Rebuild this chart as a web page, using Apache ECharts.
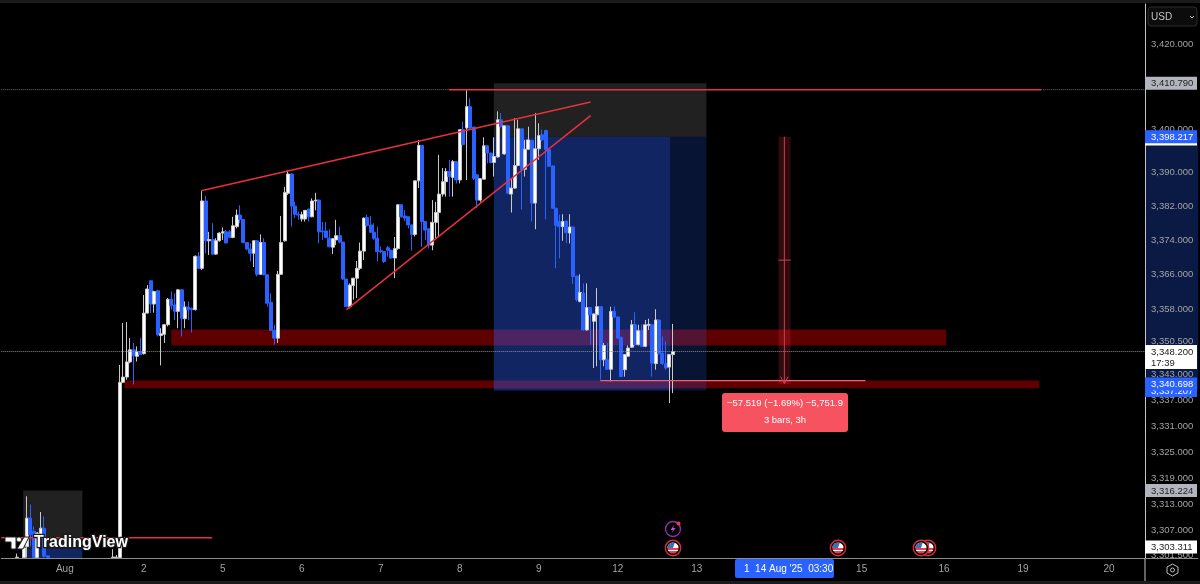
<!DOCTYPE html>
<html>
<head>
<meta charset="utf-8">
<title>XAUUSD 1h</title>
<script src="https://cdn.jsdelivr.net/npm/echarts@6/dist/echarts.min.js"></script>
<style>
  html, body { margin: 0; padding: 0; background: #000; }
  #chart { width: 1200px; height: 584px; }
</style>
</head>
<body>
<div id="chart"></div>
<script>
const barCount = 333;

// day labels on the time axis, by bar slot
const dayLabels = ['Aug', '2', '5', '6', '7', '8', '9', '12', '13', '15', '16', '19', '20'];
const daySlots = [18, 41, 64, 87, 110, 133, 156, 179, 202, 250, 274, 297, 322];

const priceTicks = [3420, 3400, 3390, 3382, 3374, 3366, 3358, 3350.5, 3343, 3337, 3331, 3325, 3319, 3313, 3307, 3301.5];

// open, close, low, high
const barsLeft = [
  [3300.9, 3301, 3300.9, 3301.8], '-',
  [3300.9, 3303.1, 3300.9, 3303.3], [3303.4, 3309.9, 3300.9, 3314.9], [3309.9, 3306.1, 3303.4, 3313],
  [3306.9, 3300.9, 3300.9, 3308], [3300.9, 3306.5, 3300.9, 3306.7], [3306.1, 3307.6, 3303.4, 3311.3],
  [3307.6, 3301.2, 3300.9, 3310.3], [3301.3, 3300.9, 3300.9, 3301.4],
];
const barsLeftStart = 4;

const barsMain = [
  [3300.9, 3301, 3300.9, 3302.8], [3300.9, 3301, 3300.9, 3301.5],
  [3300.9, 3341.1, 3300.9, 3345.1], [3341.1, 3342.3, 3340.9, 3354.8], [3342.3, 3345.8, 3341.7, 3355],
  [3345.8, 3348.6, 3345.5, 3351.3], [3348.6, 3347.2, 3340.6, 3350.2], [3347.1, 3348.2, 3345.9, 3349.4],
  [3348.2, 3347.5, 3347.4, 3351.3], [3347.7, 3357.1, 3347.5, 3361.3], [3357.1, 3362.7, 3357, 3363.6],
  [3364.6, 3359.2, 3357.1, 3364.8], [3359.2, 3362.1, 3357.2, 3362.3], [3362.3, 3352.1, 3351.7, 3362.5],
  [3351.9, 3352.3, 3345, 3353.6], [3352.2, 3354.4, 3350.2, 3354.6], [3354.4, 3360.3, 3354, 3360.6],
  [3360.3, 3358.8, 3357.9, 3362.1], [3359, 3357.5, 3355.5, 3361.7], [3357.5, 3362.5, 3353.6, 3362.7],
  [3362.5, 3355.9, 3351.7, 3362.7], [3355.8, 3358.5, 3353.6, 3359.8], [3358.5, 3357.9, 3355.5, 3359.8],
  [3358.2, 3357.9, 3352.6, 3358.4], [3357.9, 3370.3, 3357.7, 3370.5], [3370.3, 3367.5, 3367.3, 3371.3],
  [3367.5, 3383.2, 3367.1, 3385.6], [3383.2, 3373.9, 3371, 3384.4], [3373.9, 3374.2, 3370.6, 3376],
  [3374.2, 3370.8, 3370.6, 3378], [3370.8, 3373.9, 3370.6, 3374.5], [3373.9, 3375.7, 3373.7, 3375.9],
  [3375.7, 3376, 3374.1, 3377], [3376, 3373.4, 3373.3, 3376.4], [3376, 3374.7, 3374.5, 3376.4],
  [3374.7, 3377.4, 3374.5, 3379.5], [3377.2, 3379.9, 3376.8, 3381.2], [3379.9, 3378.9, 3378, 3382.2],
  [3378.9, 3373.5, 3373.3, 3379], [3373.5, 3372, 3371.7, 3373.6], [3372, 3371, 3369.1, 3373.3],
  [3371, 3373.9, 3367.8, 3374], [3373.9, 3366.1, 3365.6, 3374], [3366.1, 3373.5, 3366, 3375.4],
  [3373.5, 3366, 3365.9, 3374.5], [3366, 3359.4, 3358.6, 3366.1], [3359.6, 3353.1, 3352.9, 3361.7],
  [3353.1, 3351.3, 3349.8, 3354.4], [3351.3, 3366.1, 3350.2, 3366.9], [3366.1, 3373.5, 3366, 3379.7],
  [3373.9, 3385.2, 3373.7, 3386.5], [3385, 3389.5, 3384.6, 3390.3], [3389.5, 3382, 3377.2, 3389.7],
  [3382, 3380.1, 3379.2, 3383], [3380.1, 3379.9, 3378.8, 3380.7], [3379, 3380, 3378.4, 3380.7],
  [3379, 3381, 3378.4, 3381.1], [3381.3, 3379.5, 3378.4, 3381.4], [3379.5, 3383.2, 3379.4, 3383.8],
  [3383.2, 3383.4, 3381, 3385.1], [3383.4, 3376, 3373.3, 3383.5], [3376.2, 3376, 3374.1, 3378.3],
  [3376.2, 3374.7, 3374.5, 3378.3], [3374.5, 3372.5, 3372.4, 3376.6], [3372.4, 3374.4, 3370.8, 3374.5],
  [3374.1, 3375.1, 3372.9, 3378.8], [3375.1, 3373.6, 3373.3, 3377.2], [3373.6, 3365, 3364.8, 3373.7],
  [3365, 3358.6, 3358.5, 3365.1], [3358.6, 3363.6, 3358.2, 3364], [3363.5, 3365.2, 3360.2, 3365.3],
  [3365.2, 3367.5, 3360.6, 3369.2], [3367.5, 3371.5, 3367.1, 3373.5], [3371.5, 3379.2, 3369.4, 3379.3],
  [3379.3, 3377.5, 3377.2, 3380], [3377.6, 3375.9, 3375.7, 3379.7], [3375.9, 3374.5, 3374.1, 3378],
  [3374.5, 3371.4, 3369.1, 3377.2], [3371.6, 3371.4, 3371, 3372.6], [3371.4, 3369.1, 3368.7, 3371.5],
  [3372.3, 3371.7, 3370.2, 3372.7], [3371.7, 3369.9, 3369.7, 3371.9], [3369.9, 3372.1, 3365.2, 3374.8],
  [3372.1, 3382.3, 3371.8, 3382.4], [3382.3, 3379.5, 3379.3, 3382.4], [3379.7, 3379.2, 3378.5, 3381.1],
  [3379.5, 3377.6, 3376.8, 3379.6], [3377.6, 3375.4, 3371.6, 3377.7], [3375.4, 3387.9, 3374.9, 3388],
  [3387.9, 3396.2, 3386.2, 3397.5], [3396.2, 3378.4, 3372.5, 3396.3], [3378.4, 3376.4, 3374.1, 3378.5],
  [3376.7, 3372.9, 3372.1, 3376.8], [3372.9, 3378.2, 3371.7, 3383.4], [3378.2, 3380.5, 3374.5, 3383],
  [3380.5, 3384.8, 3374.9, 3394], [3384.8, 3387.7, 3384.2, 3390.9], [3387.7, 3390.1, 3384.2, 3390.9],
  [3390.1, 3388.9, 3384.2, 3392.8], [3388.7, 3392.4, 3384.2, 3392.8], [3392.4, 3388.1, 3387.3, 3392.5],
  [3388.1, 3399.9, 3387.3, 3400], [3399.9, 3396.4, 3396.2, 3401.8], [3400.3, 3405.3, 3388.1, 3409.3],
  [3405.3, 3400.3, 3400.1, 3407.3], [3400.5, 3388.5, 3388.1, 3400.6], [3389.3, 3383.4, 3381.5, 3389.5],
  [3383.4, 3388.4, 3383, 3388.5], [3388.3, 3396.1, 3388.2, 3398.1], [3396.1, 3394.4, 3392, 3396.2],
  [3394.4, 3392.2, 3392, 3394.5], [3392.2, 3393.6, 3388.9, 3398.1], [3393.5, 3402.2, 3393.3, 3404.2],
  [3402.2, 3400.6, 3400.4, 3403.8], [3394.2, 3400.8, 3394, 3400.9], [3400.8, 3385, 3384.8, 3401],
  [3384.8, 3386.2, 3380.5, 3388.5], [3386.2, 3391.5, 3386, 3402.6], [3391.5, 3400.1, 3391.3, 3402.2],
  [3400.1, 3390.5, 3381.2, 3400.2], [3390.6, 3395.3, 3388.9, 3397.5], [3395.3, 3397.5, 3395.1, 3400.6],
  [3397.4, 3382.7, 3378.4, 3397.5], [3382.7, 3395.4, 3376.6, 3403.8], [3395.4, 3398.5, 3392.8, 3401.4],
  [3398.7, 3397.5, 3397.2, 3399.9], [3399.7, 3395.2, 3378.9, 3399.9], [3395.2, 3391.3, 3391.1, 3395.3],
  [3391.4, 3381.5, 3381.4, 3391.5], [3381.5, 3377.5, 3367.5, 3381.6], [3378.4, 3377.2, 3369.8, 3380],
  [3377.2, 3378.4, 3373.9, 3380.1], [3378.5, 3375.8, 3373.3, 3378.6], [3375.7, 3377.1, 3373.3, 3380.1],
  [3377.1, 3365.6, 3363.9, 3377.2], [3365.7, 3360.2, 3359.8, 3365.8], [3359.8, 3361.9, 3359.6, 3366.1],
  [3361.7, 3353.2, 3353, 3364], [3353.2, 3358.4, 3353, 3364], [3358.4, 3356.7, 3349.8, 3358.5],
  [3355.2, 3356.9, 3344.4, 3357], [3356.7, 3358.6, 3344.8, 3362.9], [3358.6, 3346.3, 3341.7, 3358.7],
  [3346.3, 3349.6, 3344.8, 3350.2], [3346.3, 3344.1, 3344, 3350.2], [3344.1, 3357.5, 3341.3, 3358.6],
  [3357.5, 3356.2, 3356, 3358.6], [3356.2, 3351.3, 3351.1, 3356.3], [3351.5, 3342.4, 3342.3, 3351.6],
  [3344, 3347.5, 3342.4, 3347.6], [3347.1, 3349, 3347, 3349.6], [3349.2, 3354.4, 3349, 3355.5],
  [3354.4, 3349.8, 3349.4, 3357.3], [3349.8, 3353, 3349.6, 3354.4], [3353, 3349.4, 3349.2, 3354.4],
  [3349.4, 3354.4, 3349.2, 3355.5], [3354.2, 3354.5, 3353.2, 3355.8], [3354.4, 3345.5, 3342.4, 3354.5],
  [3345.4, 3355.5, 3344, 3358], [3355.5, 3347.7, 3347.5, 3355.6], [3347.8, 3345.4, 3345.1, 3351.7],
  [3345.4, 3344.4, 3344, 3350.5], [3344.6, 3347.5, 3336.3, 3347.6], [3347.5, 3348.2, 3338.6, 3354.6],
];
const barsMainStart = 32;

// drawn areas: from bar, to bar, from price, to price
const zoneRanges = [
  [49.5, 275.1, 3353.3, 3349.6],
  [35.8, 302.2, 3341.5, 3339.7],
  [6.4, 23.6, 3316.2, 3302.9],
  [6.4, 23.6, 3302.9, 3300.8],
  [143.4, 205.3, 3410.79, 3398.217],
  [143.4, 194.8, 3398.217, 3339.2],
  [194.8, 205.3, 3398.217, 3339.2],
  [333, 348.5, 3398.217, 3339.2],
  [226.3, 229.8, 3398.217, 3340.698],
];
const zoneFills = [
  'rgba(255,0,0,0.37)', 'rgba(255,0,0,0.37)', 'rgba(255,255,255,0.13)', 'rgba(41,98,255,0.38)',
  'rgba(255,255,255,0.13)', 'rgba(41,98,255,0.38)', 'rgba(41,98,255,0.2)', '#0b1a45', 'rgba(242,54,69,0.2)',
];

// trend lines, bar units and prices
const wedgeUpper = [[58.2, 3385.6], [171.6, 3406.4]];
const wedgeLower = [[100.5, 3357.9], [171.6, 3403.2]];
const topLine = [[130.3, 3409.3], [302.8, 3409.3]];
const baseLine = [[174.4, 3341.5], [251.6, 3341.5]];
const leftLine = [[0, 3305.4], [61.4, 3305.4]];
const measureLine = [[228, 3398.217], [228, 3340.698]];
const measureMid = [[226.3, 3369.4], [229.8, 3369.4]];
const measureArrow = [[226.9, 3342.4], [228, 3340.8], [229.1, 3342.4]];
const highGuide = [[0, 3409.3], [333, 3409.3]];
const lastGuide = [[0, 3348.2], [333, 3348.2]];

// tags on the price scale
const tagPrices = [3410.79, 3397.7, 3398.217, 3348.2, 3339.2, 3340.698, 3316.224, 3303.311];
const tagTexts = ['3,410.790', '', '3,398.217', '3,348.200\n17:39', '3,337.207', '3,340.698', '3,316.224', '3,303.311'];
const tagFills = ['#b2b5be', '#ffffff', '#2962ff', '#ffffff', '#2962ff', '#2962ff', '#b2b5be', '#ffffff'];
const tagInks = ['#222222', '#222222', '#ffffff', '#222222', '#ffffff', '#ffffff', '#222222', '#222222'];

const flagCentres = [[928, 548], [921, 548], [838, 548], [673, 548]];

const fontFamily = 'Liberation Sans, Arial, sans-serif';
const smallFont = '9.5px ' + fontFamily;

const categories = Array.from({ length: barCount }, () => '');
daySlots.forEach((slot, i) => { categories[slot] = dayLabels[i]; });

const bars = Array.from({ length: barCount }, () => '-');
barsLeft.forEach((bar, i) => { bars[barsLeftStart + i] = bar; });
barsMain.forEach((bar, i) => { bars[barsMainStart + i] = bar; });

function drawnLine(points, color, width, type) {
  return {
    type: 'line',
    xAxisIndex: 1,
    yAxisIndex: 0,
    data: points,
    showSymbol: false,
    silent: true,
    z: 5,
    lineStyle: { color: color, width: width, type: type || 'solid' },
  };
}

function flag(cx, cy) {
  const stripes = new echarts.graphic.LinearGradient(0, 0, 0, 1, [
    { offset: 0, color: '#ffffff' }, { offset: 0.5, color: '#ffffff' },
    { offset: 0.5, color: '#e8404f' }, { offset: 0.65, color: '#e8404f' },
    { offset: 0.65, color: '#ffffff' }, { offset: 0.8, color: '#ffffff' },
    { offset: 0.8, color: '#e8404f' }, { offset: 1, color: '#e8404f' },
  ]);
  return {
    type: 'group',
    x: cx,
    y: cy,
    children: [
      { type: 'circle', shape: { r: 7.7 }, style: { fill: '#000', stroke: '#d92c3c', lineWidth: 1.4 } },
      { type: 'circle', shape: { r: 5.6 }, style: { fill: stripes } },
      { type: 'sector', shape: { r: 5.6, startAngle: Math.PI, endAngle: Math.PI * 1.6 }, style: { fill: '#3f6fb5' } },
    ],
  };
}

const chart = echarts.init(document.getElementById('chart'));

chart.setOption({
  backgroundColor: '#000',
  animation: false,
  textStyle: { fontFamily: fontFamily },
  grid: { left: 1, width: 1144, top: 4, bottom: 26 },
  xAxis: [
    {
      type: 'category',
      data: categories,
      boundaryGap: true,
      z: 3,
      axisLine: { onZero: false, lineStyle: { color: '#8c8c8c', width: 1 } },
      axisTick: { show: false },
      splitLine: { show: false },
      axisLabel: { interval: 0, color: '#a3a3a3', fontSize: 10, margin: 6, fontFamily: fontFamily },
    },
    { type: 'value', min: 0, max: barCount, show: false },
  ],
  yAxis: {
    type: 'log',
    logBase: 10,
    position: 'right',
    min: 3300.8,
    max: 3429.53,
    z: 3,
    axisLine: { show: true, onZero: false, lineStyle: { color: '#c4c4c4', width: 1 } },
    axisTick: { show: false },
    splitLine: { show: false },
    axisLabel: {
      customValues: priceTicks,
      color: '#a3a3a3',
      fontSize: 9.5,
      margin: 6,
      fontFamily: fontFamily,
      formatter: (v) => Number(v).toLocaleString('en-US', { minimumFractionDigits: 3, maximumFractionDigits: 3 }),
    },
  },
  series: [
    {
      type: 'custom',
      xAxisIndex: 1,
      yAxisIndex: 0,
      z: 1,
      silent: true,
      data: zoneRanges,
      encode: { x: [0, 1], y: [2, 3] },
      renderItem: (params, api) => {
        const a = api.coord([api.value(0), api.value(2)]);
        const b = api.coord([api.value(1), api.value(3)]);
        return {
          type: 'rect',
          shape: { x: a[0], y: a[1], width: b[0] - a[0], height: b[1] - a[1] },
          style: { fill: zoneFills[params.dataIndex] },
        };
      },
    },
    {
      type: 'candlestick',
      xAxisIndex: 0,
      yAxisIndex: 0,
      z: 4,
      silent: true,
      barWidth: 3.5,
      data: bars,
      itemStyle: {
        color: '#ffffff',
        color0: '#2962ff',
        borderColor: '#c8c8c8',
        borderColor0: '#2962ff',
        borderWidth: 1,
      },
    },
    drawnLine(highGuide, '#6e6e6e', 1, 'dotted'),
    drawnLine(lastGuide, '#8c8c8c', 1, 'dotted'),
    drawnLine(wedgeUpper, '#e8313f', 1.5),
    drawnLine(wedgeLower, '#e8313f', 1.5),
    drawnLine(topLine, '#e8313f', 1.5),
    drawnLine(baseLine, '#f0606e', 1.2),
    drawnLine(leftLine, '#e8313f', 1.5),
    drawnLine(measureLine, '#c94050', 1),
    drawnLine(measureMid, '#c94050', 1),
    drawnLine(measureArrow, '#c94050', 1),
    {
      type: 'custom',
      xAxisIndex: 1,
      yAxisIndex: 0,
      z: 7,
      silent: true,
      data: tagPrices.map((p, i) => [i, p]),
      encode: { y: 1 },
      renderItem: (params, api) => {
        const i = params.dataIndex;
        const pos = api.coord([barCount, api.value(1)]);
        const twoLines = tagTexts[i].indexOf('\n') >= 0;
        const top = pos[1] - 6.5;
        return {
          type: 'group',
          children: [
            {
              type: 'rect',
              shape: { x: pos[0], y: top, width: 52, height: twoLines ? 24 : 13 },
              style: { fill: tagFills[i] },
            },
            {
              type: 'text',
              style: {
                x: pos[0] + 6,
                y: top + 1.5,
                text: tagTexts[i],
                fill: tagInks[i],
                font: smallFont,
                lineHeight: 11,
                textVerticalAlign: 'top',
              },
            },
          ],
        };
      },
    },
  ],
  graphic: [
    { type: 'rect', z: 8, shape: { x: 0, y: 0, width: 1200, height: 3 }, style: { fill: '#1b1b1b' } },
    { type: 'rect', z: 8, shape: { x: 0, y: 581, width: 1200, height: 3 }, style: { fill: '#1b1b1b' } },
    { type: 'line', z: 8, shape: { x1: 1145, y1: 558, x2: 1145, y2: 581 }, style: { stroke: '#c4c4c4', lineWidth: 1 } },
    { type: 'line', z: 8, shape: { x1: 1145, y1: 558.5, x2: 1198, y2: 558.5 }, style: { stroke: '#8c8c8c', lineWidth: 1 } },

    // currency button and settings
    { type: 'rect', z: 8, shape: { x: 1148, y: 7, width: 49, height: 19, r: 3 }, style: { fill: '#0c0c0c', stroke: '#2c2c2c' } },
    { type: 'text', z: 9, style: { x: 1151, y: 12, text: 'USD', fill: '#c4c4c4', font: '10px ' + fontFamily } },
    { type: 'polyline', z: 9, shape: { points: [[1190, 16], [1192, 18], [1194, 16]] }, style: { stroke: '#c4c4c4', fill: 'none' } },
    { type: 'polygon', z: 8, shape: { points: [[1172.5, 564], [1178, 567], [1178, 573], [1172.5, 576], [1167, 573], [1167, 567]] }, style: { fill: 'none', stroke: '#bdbdbd' } },
    { type: 'circle', z: 8, shape: { cx: 1172.5, cy: 570, r: 2 }, style: { fill: 'none', stroke: '#bdbdbd' } },

    // crosshair time
    { type: 'rect', z: 8, shape: { x: 735, y: 559, width: 99, height: 19, r: 2 }, style: { fill: '#2962ff' } },
    { type: 'text', z: 9, style: { x: 744, y: 564, text: "1  14 Aug '25  03:30", fill: '#fff', font: '10px ' + fontFamily } },

    // measure label
    { type: 'rect', z: 8, shape: { x: 722, y: 393, width: 126, height: 39, r: 3 }, style: { fill: '#f7525f' } },
    { type: 'text', z: 9, style: { x: 785, y: 398, text: '\u221257.519 (\u22121.69%) \u22125,751.9', fill: '#fff', font: smallFont, textAlign: 'center' } },
    { type: 'text', z: 9, style: { x: 785, y: 415, text: '3 bars, 3h', fill: '#fff', font: smallFont, textAlign: 'center' } },

    // event markers
    { type: 'group', z: 8, children: flagCentres.map((c) => flag(c[0], c[1])) },
    { type: 'circle', z: 8, shape: { cx: 673, cy: 529, r: 7.5 }, style: { fill: '#000', stroke: '#8e2fb0', lineWidth: 1.4 } },
    { type: 'polygon', z: 9, shape: { points: [[674.5, 524.5], [670.5, 530], [673, 530], [671.5, 533.5], [675.5, 528], [673, 528]] }, style: { fill: '#b15cd0' } },
    { type: 'circle', z: 9, shape: { cx: 678.5, cy: 523.5, r: 2 }, style: { fill: '#f23645' } },

    // TradingView mark
    { type: 'polygon', z: 9, shape: { points: [[5, 537], [16, 537], [16, 549], [11, 549], [11, 542], [5, 542]] }, style: { fill: '#fff', stroke: '#222', lineWidth: 1 } },
    { type: 'circle', z: 9, shape: { cx: 19, cy: 539.5, r: 2.5 }, style: { fill: '#fff', stroke: '#222', lineWidth: 0.8 } },
    { type: 'polygon', z: 9, shape: { points: [[24, 537], [29, 537], [23, 549], [17, 549]] }, style: { fill: '#fff', stroke: '#222', lineWidth: 1 } },
    {
      type: 'text',
      z: 9,
      style: {
        x: 34,
        y: 535,
        text: 'TradingView',
        fill: '#fff',
        stroke: '#1a1a1a',
        lineWidth: 2.5,
        font: 'bold 16px ' + fontFamily,
      },
    },
  ],
});
</script>
</body>
</html>
